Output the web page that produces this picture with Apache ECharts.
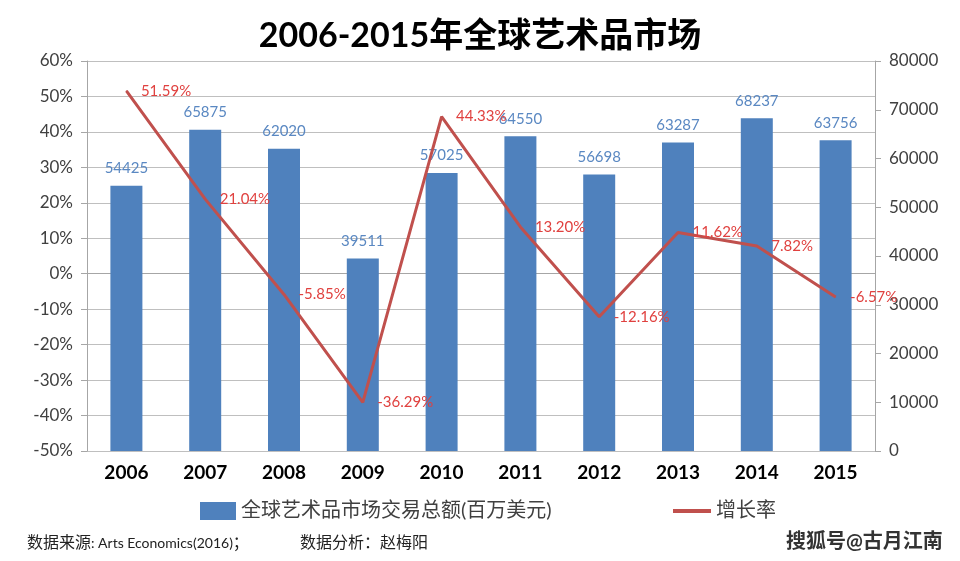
<!DOCTYPE html>
<html>
<head>
<meta charset="utf-8">
<script src="https://cdn.jsdelivr.net/npm/echarts@6/dist/echarts.min.js"></script>
<style>html,body{margin:0;padding:0;background:#fff}#c{width:960px;height:561px}</style>
</head>
<body>
<div id="c"></div>
<script>
var years = ['2006','2007','2008','2009','2010','2011','2012','2013','2014','2015'];
var marketValues = [54425, 65875, 62020, 39511, 57025, 64550, 56698, 63287, 68237, 63756];
var growthRates = [51.59, 21.04, -5.85, -36.29, 44.33, 13.20, -12.16, 11.62, 7.82, -6.57];
var barName = '全球艺术品市场交易总额(百万美元)';
var lineName = '增长率';

var FONT = "Lato, 'Noto Sans CJK SC', sans-serif";
var chart = echarts.init(document.getElementById('c'));
chart.setOption({
  animation: false,
  backgroundColor: '#fff',
  textStyle: { fontFamily: FONT },
  title: {
    text: '2006-2015年全球艺术品市场',
    left: 'center', top: 14,
    textStyle: { fontFamily: FONT, fontWeight: 'bold', fontSize: 34, color: '#000' }
  },
  grid: { left: 87, right: 85, top: 61, bottom: 110 },
  legend: [
    { data: [barName], left: 195, top: 496, itemWidth: 36, itemHeight: 18, icon: 'rect',
      textStyle: { fontSize: 20, color: '#404040', fontFamily: FONT }, itemGap: 4 },
    { data: [lineName], left: 668, top: 496, itemWidth: 38, itemHeight: 4, icon: 'rect',
      textStyle: { fontSize: 20, color: '#404040', fontFamily: FONT } }
  ],
  xAxis: {
    type: 'category', data: years,
    axisLine: { lineStyle: { color: '#a6a6a6', width: 1 } },
    axisTick: { show: false },
    axisLabel: { fontSize: 19, fontWeight: 'bold', color: '#000', margin: 12 }
  },
  yAxis: [
    { type: 'value', min: -50, max: 60, interval: 10,
      axisLine: { show: true, lineStyle: { color: '#a6a6a6' } },
      axisTick: { show: true, length: 6, lineStyle: { color: '#a6a6a6' } },
      splitLine: { lineStyle: { color: '#bfbfbf', width: 1 } },
      axisLabel: { formatter: '{value}%', fontSize: 17, color: '#404040', margin: 14 } },
    { type: 'value', min: 0, max: 80000, interval: 10000,
      axisLine: { show: true, lineStyle: { color: '#a6a6a6' } },
      axisTick: { show: true, length: 6, lineStyle: { color: '#a6a6a6' } },
      splitLine: { show: false },
      axisLabel: { fontSize: 17, color: '#404040', margin: 14,
        formatter: function (v) { return String(v); } } }
  ],
  series: [
    { name: barName, type: 'bar', yAxisIndex: 1, data: marketValues, barWidth: 32,
      itemStyle: { color: '#4F81BD' },
      label: { show: true, position: 'top', distance: 10, fontSize: 15, color: '#5A88C2' } },
    { name: lineName, type: 'line', yAxisIndex: 0, data: growthRates,
      symbol: 'circle', symbolSize: 1, showSymbol: true,
      lineStyle: { color: '#C0504D', width: 3 }, itemStyle: { color: '#C0504D' },
      label: { show: true, position: 'right', distance: 14, fontSize: 15, color: '#E0413F',
        formatter: function (p) { return p.value.toFixed(2) + '%'; } } }
  ],
  graphic: [
    { type: 'text', left: 27, top: 535, style: { rich: { c: { fontSize: 16, fontFamily: FONT, fill: '#222' }, l: { fontSize: 14, fontFamily: FONT, fill: '#222' } },
        text: '{c|数据来源}{l|: Arts Economics(2016)}{c|；}' } },
    { type: 'text', left: 300, top: 535, style: { text: '数据分析：赵梅阳', font: "16px " + FONT, fill: '#222' } },
    { type: 'text', left: 785, top: 531, style: { text: '搜狐号@古月江南', font: "bold 20px " + FONT, fill: '#333', stroke: '#fff', lineWidth: 2 } }
  ]
});
</script>
</body>
</html>
